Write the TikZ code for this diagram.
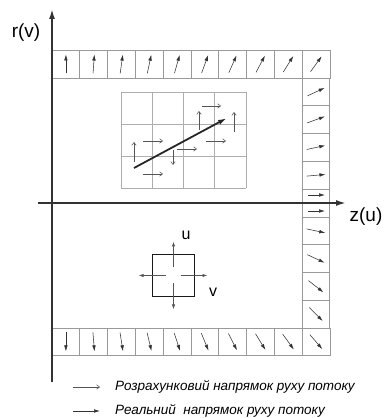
\documentclass[tikz,border=0pt]{standalone}
\usepackage{fontspec}
\setmainfont{Liberation Sans}
\usetikzlibrary{arrows.meta, calc}
\definecolor{axisgray}{HTML}{333333}
\definecolor{gridgray}{HTML}{999999}
\definecolor{calcgray}{HTML}{555555}
\newcommand{\cellsz}{27.8}

\begin{document}
\begin{tikzpicture}[x=1pt, y=1pt,
    cellline/.style={gridgray, line width=0.8pt},
    innergrid/.style={gridgray!80, line width=0.6pt},
    flow/.style={-{Latex[length=6pt,width=3.6pt]}, line width=0.55pt, axisgray},
    calcflow/.style={-{Straight Barb[length=3pt,width=4.5pt]}, line width=0.55pt, calcgray},
    axisline/.style={-{Latex[length=10pt,width=6pt]}, line width=1.8pt, axisgray},
    bigflow/.style={-{Latex[length=9pt,width=5pt]}, line width=1.8pt, black!85},
    crossflow/.style={-{Latex[length=5pt,width=3.4pt]}, line width=0.8pt, calcgray}]
    \useasboundingbox (0,0) rectangle (386,418);
    % border cells: top row, right column, bottom row
    \foreach \i in {0,...,9}{
        \draw[cellline] ({52+\i*\cellsz},340) rectangle ++(\cellsz,\cellsz);
        \draw[flow] ({52+(\i+0.5)*\cellsz},354) ++({270-\i*4}:9.5) -- ++({90-\i*4}:19);
        \draw[cellline] ({52+\i*\cellsz},62.2) rectangle ++(\cellsz,\cellsz);
        \draw[flow] ({52+(\i+0.5)*\cellsz},76.1) ++({90+\i*4.5}:9.5) -- ++({-90+\i*4.5}:19);
    }
    \foreach \k in {1,...,9}
        \draw[cellline] (302,{340-\k*\cellsz}) rectangle ++(\cellsz,\cellsz);
    \foreach \k/\a in {1/25, 2/20, 3/12, 4/5, 6/-12, 7/-25, 8/-38, 9/-45}
        \draw[flow] (316,{340-(\k-0.5)*\cellsz}) ++({\a+180}:9.5) -- ++(\a:19);
    \draw[flow] (308,223) -- (325,223);
    \draw[flow] (308,207) -- (325,207);
    % inner grid with computed directions
    \foreach \i in {0,...,4}
        \draw[innergrid] ({121+\i*31.25},230) -- ++(0,96);
    \foreach \j in {0,...,3}
        \draw[innergrid] (121,{230+\j*32}) -- ++(125,0);
    \draw[calcflow] (199,288) -- (199,307);
    \draw[calcflow] (202,312) -- (221,312);
    \draw[calcflow] (234,286) -- (234,306);
    \draw[calcflow] (206,277) -- (226,277);
    \draw[calcflow] (143,277) -- (163,277);
    \draw[calcflow] (134,256) -- (134,276);
    \draw[calcflow] (177,269) -- (197,269);
    \draw[calcflow] (173,268) -- (173,253);
    \draw[calcflow] (143,244) -- (163,244);
    \draw[bigflow] (134,250) -- (227,300);
    % axes
    \coordinate (origin) at (52,215);
    \draw[axisline] (52,36) -- (52,409);
    \draw[axisline] (38,215) -- (346,215);
    \node[font=\fontsize{19}{22}\selectfont] (rlab) at (26,385) {r(v)};
    \node[font=\fontsize{19}{22}\selectfont] (zlab) at (366,201) {z(u)};
    % element
    \node[draw=black!90, line width=1.6pt, minimum size=42pt, inner sep=0pt] (elem) at (173.5,142.5) {};
    \draw[crossflow] ([yshift=8pt]elem.center) -- ([yshift=34pt]elem.center);
    \draw[crossflow] ([yshift=-8pt]elem.center) -- ([yshift=-34pt]elem.center);
    \draw[crossflow] ([xshift=-8pt]elem.center) -- ([xshift=-35pt]elem.center);
    \draw[crossflow] ([xshift=7pt]elem.center) -- ([xshift=34pt]elem.center);
    \node[font=\fontsize{16}{18}\selectfont] (ulab) at (186,183) {u};
    \node[font=\fontsize{16}{18}\selectfont] (vlab) at (213,126) {v};
    % legend
    \coordinate (leg1a) at (73,31);
    \coordinate (leg2a) at (73,7);
    \node[anchor=west, font=\fontsize{13.5}{16}\selectfont\itshape, inner sep=0pt] (leg1) at (115,31) {Розрахунковий напрямок руху потоку};
    \node[anchor=west, font=\fontsize{13.5}{16}\selectfont\itshape, inner sep=0pt] (leg2) at (115,7) {Реальний\ \ напрямок руху потоку};
    \draw[calcflow] (leg1a) -- ++(27,0);
    \draw[flow] (leg2a) -- ++(27,0);
\end{tikzpicture}
\end{document}
